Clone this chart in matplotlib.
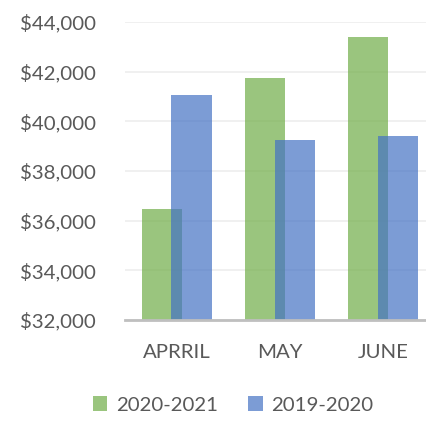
import matplotlib
matplotlib.use("Agg")
import matplotlib.pyplot as plt
from matplotlib.patches import Patch
from matplotlib.ticker import FuncFormatter
import numpy as np

plt.rcParams.update({
    "font.family": ["Lato", "DejaVu Sans"],
    "font.size": 14.7,
})

months = ["APRRIL", "MAY", "JUNE"]
series_names = ["2020-2021", "2019-2020"]
sales_2020_21 = [36450, 41750, 43400]
sales_2019_20 = [41050, 39250, 39400]

GREEN = "#70AD47"
BLUE = "#4472C4"
ALPHA = 0.7
TEXT = "#595959"

fig = plt.figure(figsize=(4.27, 4.21), dpi=100)
# plot area: x from 125px to the right edge, y from 32k (320px) to 44k (22px)
ax = fig.add_axes([125 / 427, (421 - 320) / 421, 302 / 427, (320 - 22) / 421])

x = np.arange(len(months))
width = 0.39
off = 0.145
ax.bar(x - off, sales_2020_21, width, color=GREEN, alpha=ALPHA, zorder=2)
ax.bar(x + off, sales_2019_20, width, color=BLUE, alpha=ALPHA, zorder=3)

ax.set_ylim(32000, 44000)
ax.set_yticks(np.arange(32000, 44001, 2000))
ax.yaxis.set_major_formatter(FuncFormatter(lambda v, p: f"${v:,.0f}"))
ax.set_xlim(-0.5, (427 - 125) / 103.2 - 0.5)
ax.set_xticks(x)
ax.set_xticklabels(months)

ax.grid(axis="y", color="#EDEDED", linewidth=1.2, zorder=0)
ax.set_axisbelow(True)
for s in ["top", "right", "left"]:
    ax.spines[s].set_visible(False)
ax.spines["bottom"].set_color("#BFBFBF")
ax.spines["bottom"].set_linewidth(2)
ax.spines["bottom"].set_zorder(4)
ax.tick_params(axis="y", length=0, pad=21, colors=TEXT, labelsize=14.7)
ax.tick_params(axis="x", length=0, pad=17, colors=TEXT, labelsize=14.7)

handles = [Patch(facecolor=GREEN, alpha=ALPHA), Patch(facecolor=BLUE, alpha=ALPHA)]
leg = fig.legend(handles, series_names, loc="center", bbox_to_anchor=(233 / 427, 1 - 405 / 421),
                 ncol=2, frameon=False, handlelength=0.7, handleheight=0.7,
                 handletextpad=0.4, columnspacing=1.5, fontsize=14.7)
for t in leg.get_texts():
    t.set_color(TEXT)

fig.savefig("out.png", dpi=100)
